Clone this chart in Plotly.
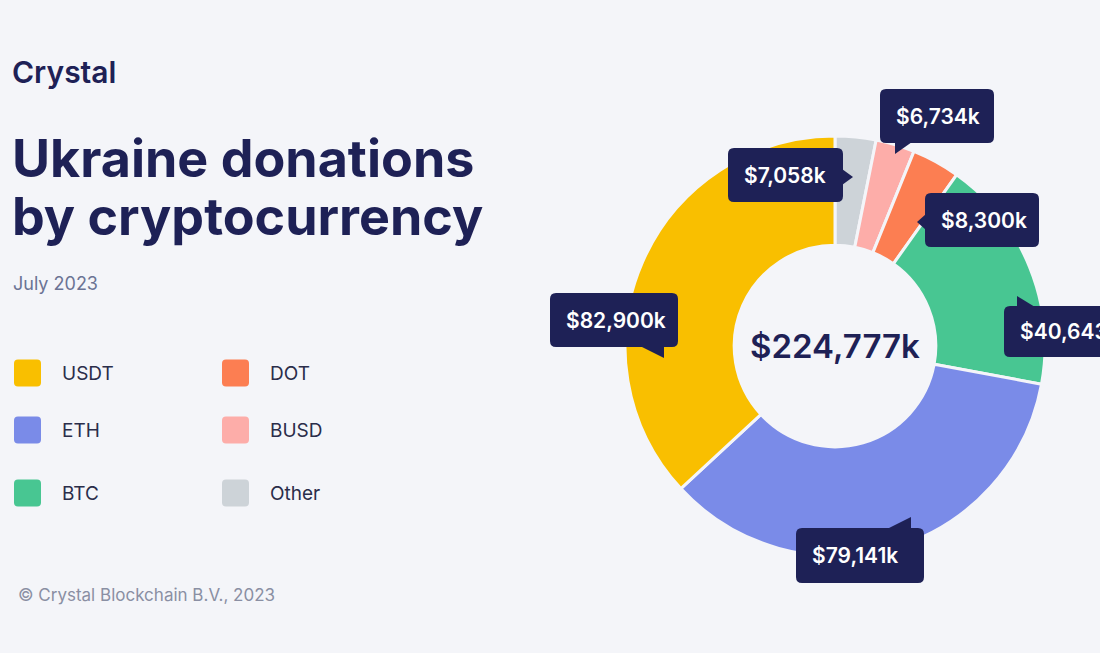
import plotly.graph_objects as go

# ---------------- data ----------------
labels = ["Other", "BUSD", "DOT", "BTC", "ETH", "USDT"]
values = [7058, 6734, 8300, 40643, 79141, 82900]
value_text = ["$7,058k", "$6,734k", "$8,300k", "$40,643k", "$79,141k", "$82,900k"]
colors = ["#CDD3D8", "#FDADA9", "#FC7E52", "#48C692", "#7A8BE8", "#F9BF00"]
total_text = "$224,777k"
legend_order = ["USDT", "ETH", "BTC", "DOT", "BUSD", "Other"]

# ---------------- layout constants ----------------
W, H = 1100, 653
BG = "#F4F5F9"
NAVY = "#1E2156"
FONT = "Inter"

cx, cy, R = 835, 346, 210


def X(x):
    return x / W


def Y(y):
    return 1 - y / H


fig = go.Figure()
fig.add_trace(go.Pie(
    labels=labels, values=values,
    marker=dict(colors=colors, line=dict(color=BG, width=3)),
    hole=0.48, sort=False, direction="clockwise", rotation=0,
    textinfo="none", showlegend=False,
    domain=dict(x=[X(cx - R), X(cx + R)], y=[Y(cy + R), Y(cy - R)]),
    hovertemplate="%{label}: %{value:,}k<extra></extra>",
))

shapes = []
annotations = []


def rrect_path(x0, y0, x1, y1, r):
    p = [
        f"M {X(x0 + r)},{Y(y0)}",
        f"L {X(x1 - r)},{Y(y0)}",
        f"Q {X(x1)},{Y(y0)} {X(x1)},{Y(y0 + r)}",
        f"L {X(x1)},{Y(y1 - r)}",
        f"Q {X(x1)},{Y(y1)} {X(x1 - r)},{Y(y1)}",
        f"L {X(x0 + r)},{Y(y1)}",
        f"Q {X(x0)},{Y(y1)} {X(x0)},{Y(y1 - r)}",
        f"L {X(x0)},{Y(y0 + r)}",
        f"Q {X(x0)},{Y(y0)} {X(x0 + r)},{Y(y0)}",
        "Z",
    ]
    return " ".join(p)


def tri_path(pts):
    s = f"M {X(pts[0][0])},{Y(pts[0][1])}"
    for (a, b) in pts[1:]:
        s += f" L {X(a)},{Y(b)}"
    return s + " Z"


# callout geometry (pixel layout), in the order of labels
callouts = [
    ((728, 148, 843, 202), [(842, 169), (853, 177), (842, 185)]),
    ((880, 89, 994, 143), [(895, 142), (895, 154), (912, 142)]),
    ((925, 193, 1039, 247), [(926, 214), (917, 222), (926, 230)]),
    ((1004, 306, 1120, 357), [(1017, 307), (1017, 296), (1035, 307)]),
    ((796, 528, 924, 583), [(887, 529), (911, 517), (911, 529)]),
    ((550, 293, 678, 347), [(640, 346), (664, 358), (664, 346)]),
]

for (box, tri), txt in zip(callouts, value_text):
    x0, y0, x1, y1 = box
    shapes.append(dict(type="path", xref="paper", yref="paper",
                       path=rrect_path(x0, y0, x1, y1, 6),
                       fillcolor=NAVY, line=dict(width=0)))
    shapes.append(dict(type="path", xref="paper", yref="paper",
                       path=tri_path(tri), fillcolor=NAVY, line=dict(width=0)))
    annotations.append(dict(x=X(x0 + 14), y=Y((y0 + y1) / 2), xref="paper", yref="paper",
                            text=txt, showarrow=False, xanchor="left", yanchor="middle",
                            font=dict(family=FONT, size=21, color="white", weight=600)))

# center total
annotations.append(dict(x=X(cx), y=Y(cy), xref="paper", yref="paper", text=total_text,
                        showarrow=False, xanchor="center", yanchor="middle",
                        font=dict(family=FONT, size=33, color=NAVY, weight=600)))

# titles
annotations += [
    dict(x=X(10), y=Y(72), text="Crystal", font=dict(family=FONT, size=30, color=NAVY, weight=600)),
    dict(x=X(10), y=Y(158), text="Ukraine donations", font=dict(family=FONT, size=52, color=NAVY, weight=700)),
    dict(x=X(10), y=Y(216), text="by cryptocurrency", font=dict(family=FONT, size=52, color=NAVY, weight=700)),
    dict(x=X(11), y=Y(284), text="July 2023", font=dict(family=FONT, size=18, color="#6B7394")),
    dict(x=X(16), y=Y(595), text="© Crystal Blockchain B.V., 2023", font=dict(family=FONT, size=17, color="#8A8FA3")),
]
for a in annotations[-5:]:
    a.update(xref="paper", yref="paper", showarrow=False, xanchor="left", yanchor="middle")

# legend (manual, two columns)
legend_pos = [(14, 373), (14, 430), (14, 493), (222, 373), (222, 430), (222, 493)]
for name, (lx, ly) in zip(legend_order, legend_pos):
    col = colors[labels.index(name)]
    shapes.append(dict(type="path", xref="paper", yref="paper",
                       path=rrect_path(lx, ly - 13.5, lx + 27, ly + 13.5, 4),
                       fillcolor=col, line=dict(width=0)))
    annotations.append(dict(x=X(lx + 46), y=Y(ly), xref="paper", yref="paper", text=name,
                            showarrow=False, xanchor="left", yanchor="middle",
                            font=dict(family=FONT, size=19, color="#2A2D4A")))

fig.update_layout(
    width=W, height=H, margin=dict(l=0, r=0, t=0, b=0),
    paper_bgcolor=BG, plot_bgcolor=BG,
    shapes=shapes, annotations=annotations, showlegend=False,
)

fig.write_html("out.html", config={"displayModeBar": False})
